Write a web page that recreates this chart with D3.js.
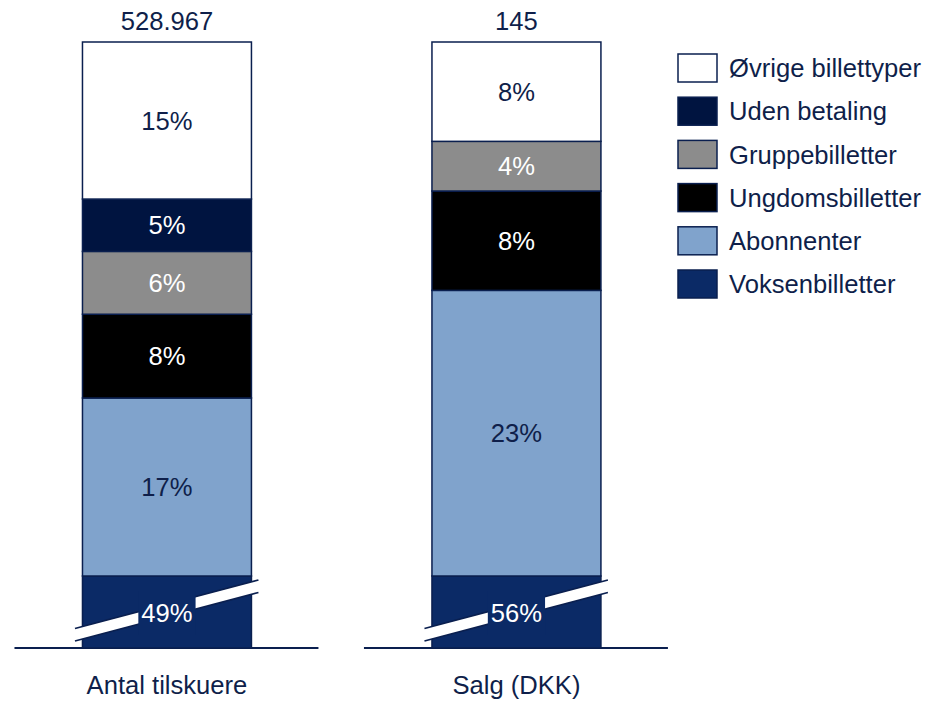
<!DOCTYPE html>
<html>
<head>
<meta charset="utf-8">
<script src="https://cdn.jsdelivr.net/npm/d3@7"></script>
<style>
  html, body { margin: 0; padding: 0; background: #fff; }
  svg { display: block; font-family: "Liberation Sans", Arial, sans-serif; }
</style>
</head>
<body>
<svg id="chart" width="928" height="701"></svg>
<script>
// Categories and totals shown above each bar
const categories = ["Antal tilskuere", "Salg (DKK)"];
const totals = ["528.967", "145"];

// Ticket types, bottom to top in the stack
const series = ["Voksenbilletter", "Abonnenter", "Ungdomsbilletter", "Gruppebilletter", "Uden betaling", "Øvrige billettyper"];
const seriesColors = ["#0b2a66", "#80a3cc", "#000000", "#8c8c8c", "#001440", "#ffffff"];
const labelColors = ["#ffffff", "#0f1f4a", "#ffffff", "#ffffff", "#ffffff", "#0f1f4a"];

// Shares in percent per category (same order as series)
const antalValues = [49, 17, 8, 6, 5, 15];
const salgValues = [56, 23, 8, 4, 0, 8];

const valuesByCategory = [antalValues, salgValues];

const navy = "#0a1f4f";
const textDark = "#0f1f4a";
const fontSize = 25.6;

const svg = d3.select("#chart");

// Layout
const barTop = 42;
const breakTop = 576;      // top of the broken (bottom) segment
const baseY = 648;         // baseline

const x = d3.scaleBand()
  .domain(categories)
  .range([-4.9, 688.3])
  .paddingInner(0.5165)
  .paddingOuter(0.25);

categories.forEach((cat, ci) => {
  const vals = valuesByCategory[ci];
  const x0 = x(cat);
  const bw = x.bandwidth();
  const cx = x0 + bw / 2;

  // The first series is shown broken; the rest share a linear scale
  const upper = vals.slice(1);
  const upperSum = d3.sum(upper);
  const y = d3.scaleLinear().domain([0, upperSum]).range([breakTop, barTop]);

  const g = svg.append("g");

  // Baseline
  g.append("line")
    .attr("x1", x0 - 68).attr("x2", x0 + bw + 67)
    .attr("y1", baseY).attr("y2", baseY)
    .attr("stroke", navy).attr("stroke-width", 2);

  // Broken bottom segment
  g.append("rect")
    .attr("x", x0).attr("y", breakTop)
    .attr("width", bw).attr("height", baseY - breakTop)
    .attr("fill", seriesColors[0])
    .attr("stroke", navy).attr("stroke-width", 1.5);

  // Stacked upper segments
  let cum = 0;
  const segs = [];
  upper.forEach((v, i) => {
    const si = i + 1;
    segs.push({ si, v, y0: cum, y1: cum + v });
    cum += v;
  });

  g.selectAll("rect.seg")
    .data(segs.filter(d => d.v > 0))
    .join("rect")
    .attr("class", "seg")
    .attr("x", x0)
    .attr("y", d => y(d.y1))
    .attr("width", bw)
    .attr("height", d => y(d.y0) - y(d.y1))
    .attr("fill", d => seriesColors[d.si])
    .attr("stroke", navy)
    .attr("stroke-width", 1.5);

  g.selectAll("text.seglabel")
    .data(segs.filter(d => d.v > 0))
    .join("text")
    .attr("class", "seglabel")
    .attr("x", cx)
    .attr("y", d => (y(d.y0) + y(d.y1)) / 2)
    .attr("dy", "0.36em")
    .attr("text-anchor", "middle")
    .attr("font-size", fontSize)
    .attr("fill", d => labelColors[d.si])
    .text(d => d.v + "%");

  // Axis break: white slanted band across the bottom segment
  const bx0 = x0 - 7.5, bx1 = x0 + bw + 7;
  const topL = 628.5, topR = 580, thick = 12.5;
  g.append("polygon")
    .attr("points", [[bx0, topL], [bx1, topR], [bx1, topR + thick], [bx0, topL + thick]].map(p => p.join(",")).join(" "))
    .attr("fill", "#fff");
  [0, thick].forEach(off => {
    g.append("line")
      .attr("x1", bx0).attr("y1", topL + off)
      .attr("x2", bx1).attr("y2", topR + off)
      .attr("stroke", navy).attr("stroke-width", 1.8);
  });

  // Bottom segment label on a patch of bar colour
  const lblY = 613;
  const lbl = g.append("text")
    .attr("x", cx).attr("y", lblY).attr("dy", "0.36em")
    .attr("text-anchor", "middle")
    .attr("font-size", fontSize)
    .attr("fill", labelColors[0])
    .text(vals[0] + "%");
  const bb = lbl.node().getBBox();
  g.insert("rect", function () { return lbl.node(); })
    .attr("x", bb.x - 3).attr("y", lblY - 22)
    .attr("width", bb.width + 6).attr("height", 44)
    .attr("fill", seriesColors[0]);

  // Total above bar
  g.append("text")
    .attr("x", cx).attr("y", barTop - 12)
    .attr("text-anchor", "middle")
    .attr("font-size", fontSize)
    .attr("fill", textDark)
    .text(totals[ci]);

  // Category label
  g.append("text")
    .attr("x", cx).attr("y", 694)
    .attr("text-anchor", "middle")
    .attr("font-size", fontSize)
    .attr("fill", textDark)
    .text(cat);
});

// Legend, top entry is the top of the stack
const legendItems = series.map((s, i) => ({ name: s, color: seriesColors[i] })).reverse();
const legend = svg.append("g").attr("transform", "translate(678,54)");
const rowH = 43.2;
const item = legend.selectAll("g")
  .data(legendItems)
  .join("g")
  .attr("transform", (d, i) => `translate(0,${i * rowH})`);
item.append("rect")
  .attr("width", 39).attr("height", 28)
  .attr("fill", d => d.color)
  .attr("stroke", navy).attr("stroke-width", 1.5);
item.append("text")
  .attr("x", 51).attr("y", 14).attr("dy", "0.36em")
  .attr("font-size", fontSize)
  .attr("fill", textDark)
  .text(d => d.name);
</script>
</body>
</html>
